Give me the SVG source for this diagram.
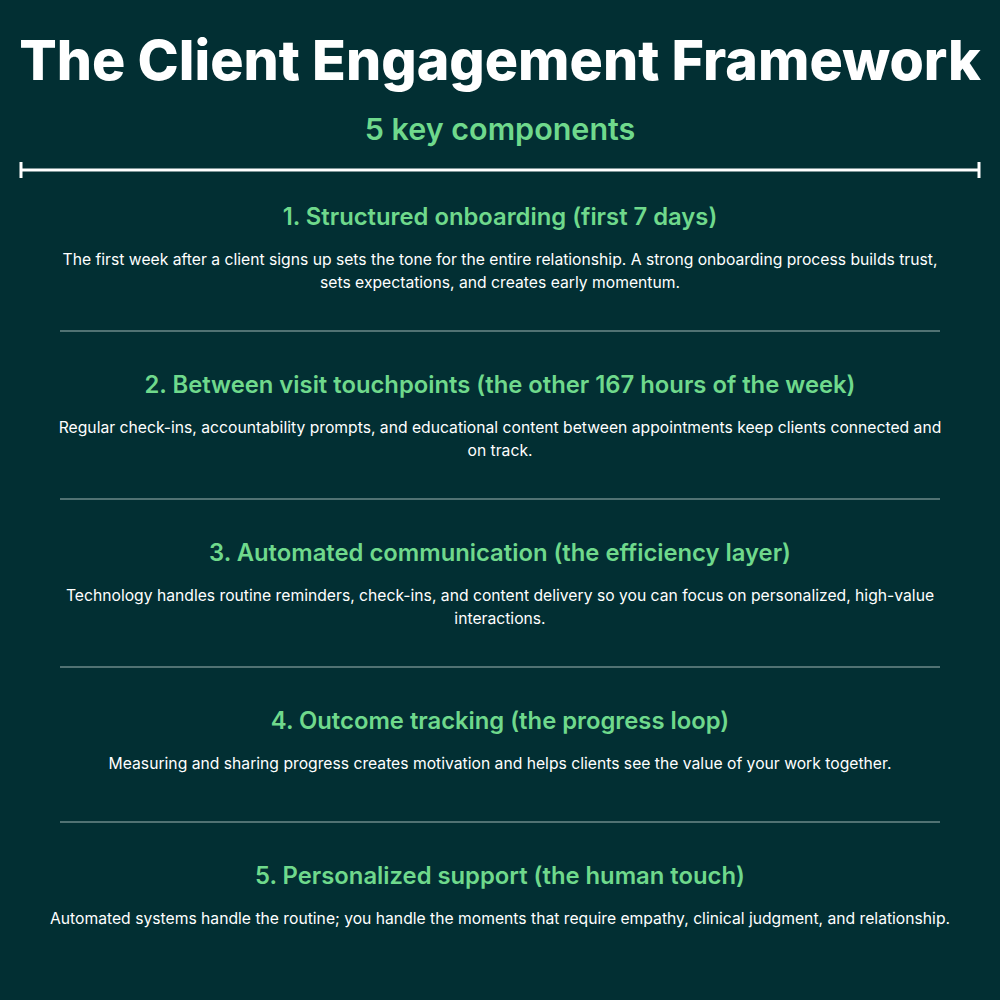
<svg xmlns="http://www.w3.org/2000/svg" width="1000" height="1000" viewBox="0 0 1000 1000">
<style>
.t{font-family:Inter,"Liberation Sans",sans-serif;text-anchor:middle}
.h{fill:#6fd98c;font-size:23.8px;font-weight:600}
.b{fill:#ffffff;font-size:15.7px}
.sep{stroke:#9fb5b3;stroke-width:1.2}
</style>
<rect width="1000" height="1000" fill="#022f33"/>
<text class="t" x="500" y="80" fill="#fff" font-size="55.5" font-weight="800">The Client Engagement Framework</text>
<text class="t" x="500" y="140" fill="#6fd98c" font-size="30.5" font-weight="600">5 key components</text>
<g stroke="#fff" stroke-width="3"><line x1="21" y1="170" x2="979" y2="170"/><line x1="21" y1="162" x2="21" y2="178"/><line x1="979" y1="162" x2="979" y2="178"/></g>
<g id="n1"><text class="t h" x="500" y="225">1. Structured onboarding (first 7 days)</text>
<text class="t b" x="500" y="265">The first week after a client signs up sets the tone for the entire relationship. A strong onboarding process builds trust,</text>
<text class="t b" x="500" y="288">sets expectations, and creates early momentum.</text></g>
<g id="n2"><text class="t h" x="500" y="393">2. Between visit touchpoints (the other 167 hours of the week)</text>
<text class="t b" x="500" y="433">Regular check-ins, accountability prompts, and educational content between appointments keep clients connected and</text>
<text class="t b" x="500" y="456">on track.</text></g>
<g id="n3"><text class="t h" x="500" y="561">3. Automated communication (the efficiency layer)</text>
<text class="t b" x="500" y="601">Technology handles routine reminders, check-ins, and content delivery so you can focus on personalized, high-value</text>
<text class="t b" x="500" y="624">interactions.</text></g>
<g id="n4"><text class="t h" x="500" y="729">4. Outcome tracking (the progress loop)</text>
<text class="t b" x="500" y="769">Measuring and sharing progress creates motivation and helps clients see the value of your work together.</text></g>
<g id="n5"><text class="t h" x="500" y="884">5. Personalized support (the human touch)</text>
<text class="t b" x="500" y="924">Automated systems handle the routine; you handle the moments that require empathy, clinical judgment, and relationship.</text></g>
<g id="connectors"><line class="sep" x1="60" y1="331" x2="940" y2="331"/><line class="sep" x1="60" y1="499" x2="940" y2="499"/><line class="sep" x1="60" y1="667" x2="940" y2="667"/><line class="sep" x1="60" y1="822" x2="940" y2="822"/></g>
</svg>
